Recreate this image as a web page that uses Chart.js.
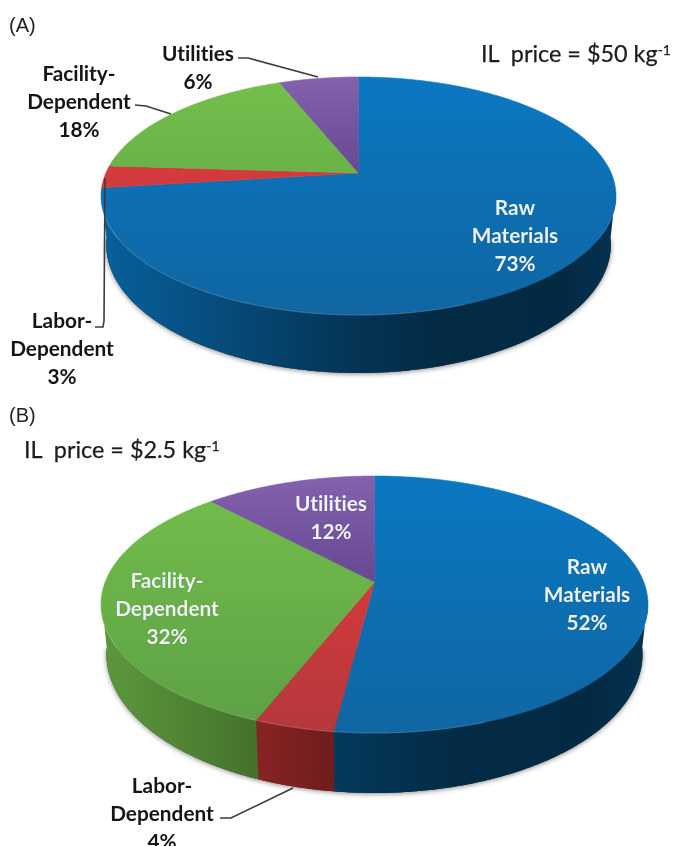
<!DOCTYPE html>
<html><head><meta charset="utf-8">
<script src="https://cdn.jsdelivr.net/npm/chart.js@4/dist/chart.umd.min.js"></script>
<style>
html,body{margin:0;padding:0;background:#fff;width:675px;height:846px;overflow:hidden}
canvas{position:absolute;left:0;filter:blur(.45px)}
svg{position:absolute;left:0;top:0;filter:blur(.3px)}
#text{position:absolute;left:0;top:0;width:675px;height:846px;filter:blur(.3px)}
.t{position:absolute;white-space:nowrap;font-variant-ligatures:none}
.lab{font-family:Lato,"Open Sans",sans-serif;font-weight:700;font-size:20.8px;line-height:28px;text-align:center;transform:translateX(-50%);color:#151515}
.lab.in{color:#eef3f6;text-shadow:0 0 1px rgba(0,0,0,.3)}
.panel{font-family:"Liberation Sans",Arial,sans-serif;font-size:20px;color:#222}
.price{font-family:Lato,"Open Sans",sans-serif;font-size:23.4px;color:#1c1c1c;-webkit-text-stroke:.25px #1c1c1c}
.price sup{font-size:14px;line-height:0;vertical-align:7px}
</style></head><body>
<canvas id="a" width="675" height="400" style="top:0"></canvas>
<canvas id="b" width="675" height="446" style="top:400px"></canvas>
<svg width="675" height="846" fill="none" stroke="#3c3c3c" stroke-width="1.6">
<polyline points="238,58 248,58 318,77"/>
<polyline points="135,105 146,106 171,114"/>
<polyline points="95,327 103,327 104,321 105,178"/>
<polyline points="220,818 231,818 293,788"/>
</svg>
<div id="text"></div>
<script>
const categories = ["Raw Materials", "Labor-Dependent", "Facility-Dependent", "Utilities"];
const valuesA = [73, 3, 18, 6];
const valuesB = [52, 4, 32, 12];
const faceTop = ["#0a78c2", "#e63c3c", "#74bf4c", "#8462ae"];
const faceBottom = ["#1066a2", "#b5383c", "#5ca044", "#3c2266"];
const panelA = "(A)";
const panelB = "(B)";
const priceA = "$50";
const priceB = "$2.5";

const shadeStops = [[0,.8],[.2,.66],[.47,.45],[.65,.36],[.9,.35],[1,.42]];

function geometry(cx, rx, top, apex, bottom, base){
  const up = apex-top, dn = bottom-apex, k = (dn-up)/(dn+up), c = up*(1+k);
  const ry = (bottom-top)/2, cy = (top+bottom)/2, sy = 1.08, sx = .98;
  return {cx, rx, top, bottom, apex, k, c, S: rx*Math.sqrt(1-k*k), cy, ry, sx, sy, cy2: base-ry*sy};
}
function rim(g,a){
  const w = 1-g.k*Math.sin(a);
  return [g.cx+g.S*Math.cos(a)/w, g.apex+g.c*Math.sin(a)/w];
}
function foot(g,a){
  const p = rim(g,a);
  return [g.cx+(p[0]-g.cx)*g.sx, g.cy2+(p[1]-g.cy)*g.sy];
}
function mul(hex,f){
  const n = parseInt(hex.slice(1),16);
  return `rgb(${(n>>16)*f|0},${((n>>8)&255)*f|0},${(n&255)*f|0})`;
}
const STEP = Math.PI/360;
function sweep(s,e){
  const out = [];
  for(let a=s;a<e;a+=STEP) out.push(a);
  out.push(e);
  return out;
}
const perspective = {
  id:"perspective",
  beforeDatasetsDraw(chart,args,opts){
    const g = opts.g, ctx = chart.ctx, arcs = chart.getDatasetMeta(0).data;
    const near = a => Math.sin(a) > g.k-.05;
    ctx.save();
    ctx.save();
    ctx.shadowColor = "rgba(40,40,40,.55)"; ctx.shadowBlur = 5; ctx.shadowOffsetY = 1;
    ctx.fillStyle = "#333";
    ctx.beginPath();
    const all = sweep(-Math.PI/2,3*Math.PI/2).filter(near);
    all.forEach((a,i)=>{const p=foot(g,a); i?ctx.lineTo(p[0],p[1]):ctx.moveTo(p[0],p[1]);});
    ctx.closePath(); ctx.fill();
    ctx.restore();
    arcs.forEach((el,i)=>{
      const pts = sweep(el.startAngle,el.endAngle).filter(near);
      if(pts.length<2) return;
      const grad = ctx.createLinearGradient(g.cx-g.rx,0,g.cx+g.rx,0);
      shadeStops.forEach(s=>grad.addColorStop(s[0],mul(faceTop[i],s[1])));
      ctx.beginPath();
      pts.forEach((a,j)=>{const p=rim(g,a); j?ctx.lineTo(p[0],p[1]):ctx.moveTo(p[0],p[1]);});
      pts.slice().reverse().forEach(a=>{const p=foot(g,a); ctx.lineTo(p[0],p[1]);});
      ctx.closePath();
      ctx.fillStyle = grad; ctx.fill();
    });
    arcs.forEach((el,i)=>{
      const grad = ctx.createLinearGradient(0,g.top,0,g.bottom);
      grad.addColorStop(0,faceTop[i]); grad.addColorStop(1,faceBottom[i]);
      ctx.beginPath();
      ctx.moveTo(g.cx,g.apex);
      sweep(el.startAngle,el.endAngle).forEach(a=>{const p=rim(g,a); ctx.lineTo(p[0],p[1]);});
      ctx.closePath();
      ctx.fillStyle = grad; ctx.strokeStyle = grad; ctx.lineWidth = .6;
      ctx.fill(); ctx.stroke();
    });
    // faint light rim on the near-left edge only
    arcs.forEach((el,i)=>{
      const pts = sweep(el.startAngle,el.endAngle).filter(a=>Math.sin(a)>g.k && Math.cos(a)<.35);
      if(pts.length<2) return;
      ctx.beginPath();
      pts.forEach((a,j)=>{const p=rim(g,a); j?ctx.lineTo(p[0],p[1]):ctx.moveTo(p[0],p[1]);});
      ctx.strokeStyle = "rgba(255,255,255,.14)"; ctx.lineWidth = 1.2; ctx.stroke();
    });
    ctx.restore();
    return false;
  }
};
function pie(id,values,g){
  return new Chart(document.getElementById(id),{
    type:"pie",
    data:{labels:categories,datasets:[{data:values,backgroundColor:faceTop,borderWidth:0}]},
    plugins:[perspective],
    options:{responsive:false,animation:false,events:[],
      plugins:{legend:{display:false},tooltip:{enabled:false},perspective:{g}}}
  });
}
pie("a",valuesA,geometry(358.5,257.5,77,173,315,373));
pie("b",valuesB,geometry(374.5,273.5,76,182,333,393));

const host = document.getElementById("text");
function add(cls,html,x,y){
  const d = document.createElement("div");
  d.className = "t "+cls; d.innerHTML = html;
  d.style.left = x+"px"; d.style.top = y+"px";
  host.appendChild(d);
}
function label(values,i,x,y,inside){
  const parts = categories[i].replace("-","- ").split(" ");
  add("lab"+(inside?" in":""),[...parts,values[i]+"%"].join("<br>"),x,y-14);
}
add("panel",panelA,9,14);
add("panel",panelB,9,404);
add("price",`IL&nbsp; price = ${priceA} kg<sup>-1</sup>`,481,39);
add("price",`IL&nbsp; price = ${priceB} kg<sup>-1</sup>`,24,435);
label(valuesA,0,515,207,true);
label(valuesA,1,62,320,false);
label(valuesA,2,79,73,false);
label(valuesA,3,198,53,false);
label(valuesB,0,587,566,true);
label(valuesB,1,162,785,false);
label(valuesB,2,167,580,true);
label(valuesB,3,331,503,true);
</script>
</body></html>
